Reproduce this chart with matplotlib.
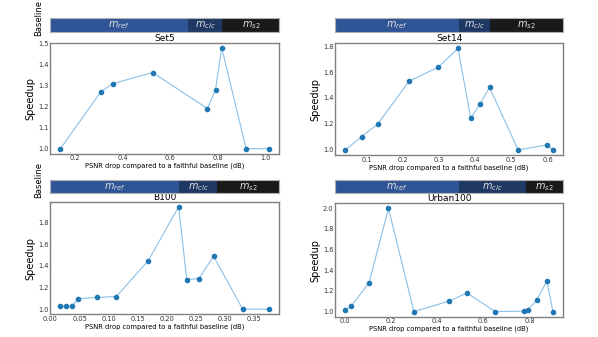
import matplotlib.pyplot as plt

W, H = 598, 337

# data
set5_x = [0.137, 0.308, 0.357, 0.526, 0.757, 0.791, 0.817, 0.920, 1.016]
set5_y = [1.00, 1.271, 1.309, 1.362, 1.191, 1.280, 1.480, 1.00, 1.00]
set5_bounds = [0.674, 0.820]

set14_x = [0.042, 0.087, 0.131, 0.218, 0.298, 0.353, 0.388, 0.414, 0.440, 0.519, 0.599, 0.615]
set14_y = [1.00, 1.103, 1.198, 1.530, 1.636, 1.782, 1.245, 1.355, 1.481, 1.00, 1.039, 1.00]
set14_bounds = [0.356, 0.442]

b100_x = [0.017, 0.027, 0.037, 0.047, 0.079, 0.113, 0.168, 0.220, 0.234, 0.255, 0.280, 0.330, 0.375]
b100_y = [1.025, 1.025, 1.028, 1.098, 1.108, 1.117, 1.449, 1.945, 1.274, 1.283, 1.489, 1.00, 1.00]
b100_bounds = [0.221, 0.286]

urban_x = [0.004, 0.030, 0.106, 0.190, 0.300, 0.451, 0.529, 0.650, 0.774, 0.791, 0.830, 0.874, 0.900]
urban_y = [1.016, 1.055, 1.277, 1.997, 1.00, 1.10, 1.18, 1.00, 1.003, 1.016, 1.109, 1.296, 1.00]
urban_bounds = [0.496, 0.782]

seg_labels = ['$m_{ref}$', '$m_{clc}$', '$m_{s2}$']
seg_colors = ['#2f5597', '#1f3864', '#1a1a1a']

panels = [
    ('Set5', set5_x, set5_y, set5_bounds, (50, 279.3), (18.3, 31.7), (42.7, 153.7), True),
    ('Set14', set14_x, set14_y, set14_bounds, (335, 563.3), (18.3, 31.7), (43.3, 155), False),
    ('B100', b100_x, b100_y, b100_bounds, (50, 279.3), (180, 193.3), (201.7, 314.3), True),
    ('Urban100', urban_x, urban_y, urban_bounds, (335, 563.3), (180, 193.3), (203.3, 316.7), False),
]

def box(xr, yr):
    return [xr[0] / W, 1 - yr[1] / H, (xr[1] - xr[0]) / W, (yr[1] - yr[0]) / H]

fig = plt.figure(figsize=(W / 100, H / 100), dpi=100)

for name, xs, ys, bounds, xr, bar_yr, ax_yr, show_base in panels:
    ax = fig.add_axes(box(xr, ax_yr))
    ax.plot(xs, ys, '-', color='#8cc0e6', linewidth=0.8, zorder=2)
    ax.plot(xs, ys, 'o', color='#1f77b4', markersize=3, zorder=3)
    ax.set_title(name, fontsize=6.5, pad=1.5)
    ax.set_xlabel('PSNR drop compared to a faithful baseline (dB)', fontsize=4.9, labelpad=1)
    ax.set_ylabel('Speedup', fontsize=7, labelpad=1.5)
    ax.tick_params(labelsize=4.8, length=0, pad=1.2, colors='#333333')
    for s in ax.spines.values():
        s.set_color('#808080')
        s.set_linewidth(1.0)

    bar = fig.add_axes(box(xr, bar_yr))
    x0, x1 = ax.get_xlim()
    edges = [x0, bounds[0], bounds[1], x1]
    for i in range(3):
        bar.barh(0, edges[i + 1] - edges[i], left=edges[i], height=1,
                 color=seg_colors[i], edgecolor='none')
        bar.text((edges[i] + edges[i + 1]) / 2, 0, seg_labels[i], color='#e0e0e0',
                 ha='center', va='center', fontsize=7)
    bar.set_xlim(x0, x1)
    bar.set_ylim(-0.5, 0.5)
    bar.set_xticks([])
    bar.set_yticks([])
    for s in bar.spines.values():
        s.set_color('#b0b0b0')
        s.set_linewidth(0.8)
    if show_base:
        bar.set_ylabel('Baseline', fontsize=6)
        bar.yaxis.set_label_coords(-0.03, 1.0)

fig.savefig('out.png', dpi=100)
